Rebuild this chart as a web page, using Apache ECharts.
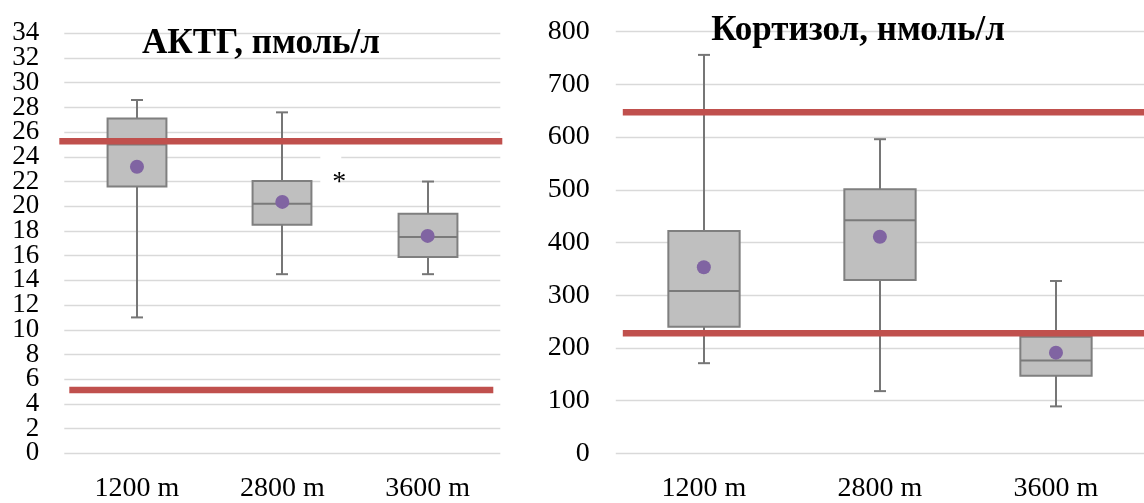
<!DOCTYPE html>
<html>
<head>
<meta charset="utf-8">
<script src="https://cdn.jsdelivr.net/npm/echarts@6/dist/echarts.min.js"></script>
<style>
html,body{margin:0;padding:0;background:#fff;}
#chart{width:1144px;height:503px;}
</style>
</head>
<body>
<div id="chart"></div>
<script>
// ---- data ----
const categories = ['1200 m', '2800 m', '3600 m'];

const acthTitle = 'АКТГ, пмоль/л';
const acthMin    = [11.0, 14.5, 14.5];
const acthQ1     = [21.6, 18.5, 15.9];
const acthMedian = [25.0, 20.2, 17.5];
const acthQ3     = [27.1, 22.05, 19.4];
const acthMax    = [28.6, 27.6, 22.0];
const acthMean   = [23.2, 20.35, 17.6];
const acthRef    = [25.26, 5.12];
const acthTicks  = [0, 34, 2];

const cortTitle = 'Кортизол, нмоль/л';
const cortMin    = [171, 118, 89];
const cortQ1     = [240, 329, 147];
const cortMedian = [308, 442, 176];
const cortQ3     = [422, 501, 221];
const cortMax    = [756, 596, 327];
const cortMean   = [353, 411, 191];
const cortRef    = [647, 228];
const cortTicks  = [0, 800, 100];

const sigCategory = 1;
const sigValue = 22.1;
const sigText = '*';

// ---- styles ----
const FONT = '"Liberation Serif", "Times New Roman", serif';
const BOX_RATIO = 0.405;
const CAP_W = 12;
const RED = '#C0504D';
const PURPLE = '#8064A2';
const acthRefExt = [[-5, 2], [5, -7]];
const cortRefExt = [[7, 10], [7, 10]];

function boxData(mn, q1, md, q3, mx) {
  return categories.map((c, i) => [i, mn[i], q1[i], md[i], q3[i], mx[i]]);
}

function renderBox(params, api) {
  const idx = api.value(0);
  const pMin = api.coord([idx, api.value(1)]);
  const pQ1 = api.coord([idx, api.value(2)]);
  const pMed = api.coord([idx, api.value(3)]);
  const pQ3 = api.coord([idx, api.value(4)]);
  const pMax = api.coord([idx, api.value(5)]);
  const band = api.size([1, 0])[0];
  const w = band * BOX_RATIO;
  const x = Math.round(pMed[0]);
  const ls = {stroke: '#767676', lineWidth: 2};
  return {
    type: 'group',
    children: [
      {type: 'line', shape: {x1: x, y1: pMax[1], x2: x, y2: pQ3[1]}, style: ls},
      {type: 'line', shape: {x1: x, y1: pQ1[1], x2: x, y2: pMin[1]}, style: ls},
      {type: 'line', shape: {x1: x - CAP_W / 2, y1: pMax[1], x2: x + CAP_W / 2, y2: pMax[1]}, style: ls},
      {type: 'line', shape: {x1: x - CAP_W / 2, y1: pMin[1], x2: x + CAP_W / 2, y2: pMin[1]}, style: ls},
      {type: 'rect', shape: {x: x - w / 2, y: pQ3[1], width: w, height: pQ1[1] - pQ3[1]},
        style: {fill: '#bfbfbf', stroke: '#7f7f7f', lineWidth: 2}},
      {type: 'line', shape: {x1: x - w / 2, y1: pMed[1], x2: x + w / 2, y2: pMed[1]},
        style: {stroke: '#7a7a7a', lineWidth: 2}}
    ]
  };
}

function makeRefRender(ext) {
  return function (params, api) {
    const y = api.coord([0, api.value(1)])[1];
    const cs = params.coordSys;
    const e = ext[params.dataIndex];
    return {
      type: 'line',
      shape: {x1: cs.x + e[0], y1: y, x2: cs.x + cs.width + e[1], y2: y},
      style: {stroke: RED, lineWidth: 6.5}
    };
  };
}

function renderSig(params, api) {
  const p = api.coord([api.value(0), api.value(1)]);
  const cx = p[0] + 57;
  return {
    type: 'group',
    children: [
      {type: 'rect', shape: {x: cx - 19, y: p[1] - 30, width: 21, height: 38}, style: {fill: '#fff'}},
      {type: 'text', x: cx, y: p[1] + 2, style: {text: sigText, font: 'normal 28px ' + FONT,
        fill: '#000', align: 'center', verticalAlign: 'middle'}}
    ]
  };
}

const axisLabelX = {fontFamily: FONT, fontSize: 28, color: '#000', margin: 21};
const splitLine = {show: true, lineStyle: {color: '#d9d9d9', width: 1.3}};
const acthLabelStyle = {fontFamily: FONT, fontSize: 27, color: '#000', margin: 25,
  showMinLabel: true, showMaxLabel: true};
const isEnd = v => v === acthTicks[0] || v === acthTicks[1];

const chart = echarts.init(document.getElementById('chart'), null, {renderer: 'canvas'});
chart.setOption({
  animation: false,
  backgroundColor: '#fff',
  title: [
    {text: acthTitle, left: 256, top: 21, textAlign: 'center',
      textStyle: {fontFamily: FONT, fontSize: 35, fontWeight: 'bold', color: '#000'}},
    {text: cortTitle, left: 853, top: 8, textAlign: 'center',
      textStyle: {fontFamily: FONT, fontSize: 35, fontWeight: 'bold', color: '#000'}}
  ],
  grid: [
    {left: 64.3, top: 33.3, width: 436, height: 420},
    {left: 615.8, top: 31.7, width: 531, height: 421.6}
  ],
  xAxis: [
    {type: 'category', gridIndex: 0, data: categories, axisLine: {show: false}, axisTick: {show: false},
      axisLabel: axisLabelX},
    {type: 'category', gridIndex: 1, data: categories, axisLine: {show: false}, axisTick: {show: false},
      axisLabel: axisLabelX}
  ],
  yAxis: [
    // left panel: end labels (0, 34)
    {type: 'value', gridIndex: 0, position: 'left', offset: 0,
      min: acthTicks[0], max: acthTicks[1], interval: acthTicks[2],
      axisLine: {show: false}, axisTick: {show: false}, splitLine: splitLine,
      axisLabel: Object.assign({}, acthLabelStyle, {formatter: v => isEnd(v) ? String(v) : ''})},
    // left panel: inner labels (2 ... 32)
    {type: 'value', gridIndex: 0, position: 'left', offset: 0,
      min: acthTicks[0], max: acthTicks[1], interval: acthTicks[2],
      axisLine: {show: false}, axisTick: {show: false}, splitLine: {show: false},
      axisLabel: Object.assign({}, acthLabelStyle, {formatter: v => isEnd(v) ? '' : String(v)})},
    {type: 'value', gridIndex: 1, position: 'left', offset: 0,
      min: cortTicks[0], max: cortTicks[1], interval: cortTicks[2],
      axisLine: {show: false}, axisTick: {show: false}, splitLine: splitLine,
      axisLabel: {fontFamily: FONT, fontSize: 28, color: '#000', margin: 26,
        showMinLabel: true, showMaxLabel: true}}
  ],
  series: [
    {type: 'custom', name: 'sig', xAxisIndex: 0, yAxisIndex: 0, z: 1,
      data: [[sigCategory, sigValue]], encode: {x: 0, y: 1}, renderItem: renderSig},
    {type: 'custom', name: 'acthBox', xAxisIndex: 0, yAxisIndex: 0, z: 2,
      data: boxData(acthMin, acthQ1, acthMedian, acthQ3, acthMax),
      encode: {x: 0, y: [1, 2, 3, 4, 5]}, renderItem: renderBox},
    {type: 'custom', name: 'acthRef', xAxisIndex: 0, yAxisIndex: 0, z: 3,
      data: acthRef.map(v => [0, v]), encode: {x: 0, y: 1}, renderItem: makeRefRender(acthRefExt)},
    {type: 'scatter', name: 'acthMean', xAxisIndex: 0, yAxisIndex: 0, z: 4,
      data: acthMean.map((v, i) => [i, v]), symbolSize: 14, itemStyle: {color: PURPLE, opacity: 1}},
    {type: 'custom', name: 'cortBox', xAxisIndex: 1, yAxisIndex: 2, z: 2,
      data: boxData(cortMin, cortQ1, cortMedian, cortQ3, cortMax),
      encode: {x: 0, y: [1, 2, 3, 4, 5]}, renderItem: renderBox},
    {type: 'custom', name: 'cortRef', xAxisIndex: 1, yAxisIndex: 2, z: 3,
      data: cortRef.map(v => [0, v]), encode: {x: 0, y: 1}, renderItem: makeRefRender(cortRefExt)},
    {type: 'scatter', name: 'cortMean', xAxisIndex: 1, yAxisIndex: 2, z: 4,
      data: cortMean.map((v, i) => [i, v]), symbolSize: 14, itemStyle: {color: PURPLE, opacity: 1}}
  ]
});
</script>
</body>
</html>
